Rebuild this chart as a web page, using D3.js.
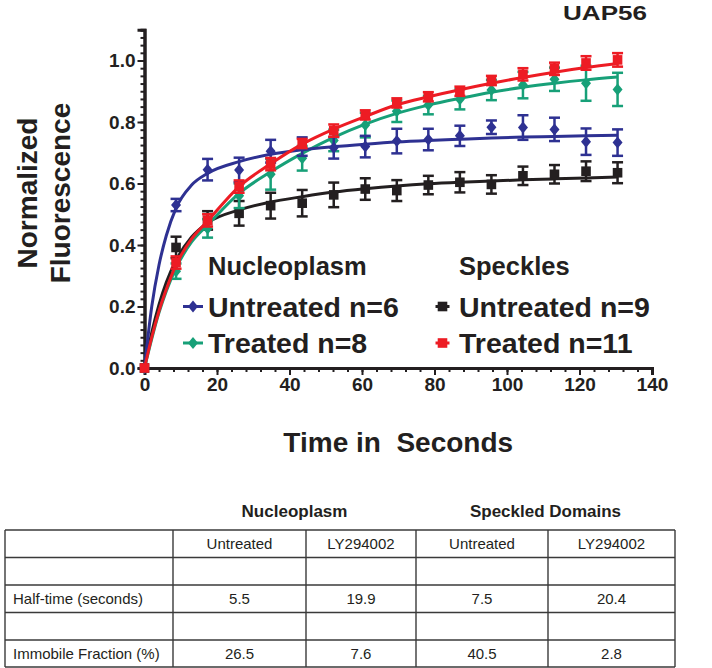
<!DOCTYPE html>
<html><head><meta charset="utf-8">
<script src="https://cdn.jsdelivr.net/npm/d3@7"></script>
<style>
body{margin:0;background:#fff}
svg{display:block;font-family:"Liberation Sans",Arial,Helvetica,sans-serif}
</style>
</head><body>
<svg id="c" width="712" height="668"></svg>
<script>
// ---------- data ----------
const times = [0, 8.7, 17.4, 26.1, 34.8, 43.5, 52.2, 60.9, 69.6, 78.3, 87, 95.7, 104.4, 113.1, 121.8, 130.5];

const nucUntreatedMean = [0, 0.53, 0.645, 0.644, 0.705, 0.72, 0.716, 0.72, 0.738, 0.743, 0.755, 0.783, 0.782, 0.776, 0.736, 0.733];
const nucUntreatedErr  = [0, 0.02, 0.035, 0.04, 0.037, 0.03, 0.035, 0.035, 0.04, 0.035, 0.033, 0.022, 0.04, 0.038, 0.043, 0.043];

const nucTreatedMean = [0, 0.315, 0.454, 0.56, 0.63, 0.682, 0.74, 0.79, 0.835, 0.855, 0.874, 0.904, 0.92, 0.939, 0.926, 0.906];
const nucTreatedErr  = [0, 0.025, 0.03, 0.04, 0.05, 0.04, 0.035, 0.04, 0.035, 0.03, 0.033, 0.033, 0.043, 0.038, 0.057, 0.054];

const spkUntreatedMean = [0, 0.392, 0.48, 0.503, 0.528, 0.536, 0.563, 0.582, 0.577, 0.595, 0.604, 0.597, 0.625, 0.63, 0.64, 0.635];
const spkUntreatedErr  = [0, 0.035, 0.03, 0.04, 0.042, 0.043, 0.04, 0.035, 0.034, 0.03, 0.033, 0.03, 0.03, 0.03, 0.032, 0.034];

const spkTreatedMean = [0, 0.343, 0.48, 0.59, 0.663, 0.73, 0.772, 0.823, 0.862, 0.882, 0.9, 0.935, 0.955, 0.973, 0.992, 1.002];
const spkTreatedErr  = [0, 0.02, 0.02, 0.02, 0.02, 0.015, 0.02, 0.015, 0.015, 0.015, 0.015, 0.015, 0.02, 0.02, 0.022, 0.022];

// fitted curves
const fitTimes = [0, 2, 4, 6, 8.7, 13, 17.4, 26.1, 34.8, 43.5, 52.2, 60.9, 69.6, 78.3, 87, 95.7, 104.4, 113.1, 121.8, 130.5];
const nucUntreatedFit = [0, 0.2, 0.335, 0.43, 0.52, 0.595, 0.633, 0.671, 0.695, 0.71, 0.72, 0.728, 0.735, 0.74, 0.744, 0.748, 0.751, 0.753, 0.755, 0.757];
const nucTreatedFit   = [0, 0.095, 0.18, 0.25, 0.325, 0.41, 0.465, 0.568, 0.638, 0.698, 0.75, 0.793, 0.828, 0.855, 0.877, 0.897, 0.913, 0.926, 0.937, 0.946];
const spkUntreatedFit = [0, 0.115, 0.206, 0.278, 0.35, 0.426, 0.472, 0.514, 0.54, 0.557, 0.572, 0.583, 0.592, 0.599, 0.604, 0.608, 0.612, 0.615, 0.618, 0.621];
const spkTreatedFit   = [0, 0.1, 0.185, 0.255, 0.335, 0.42, 0.478, 0.59, 0.664, 0.728, 0.777, 0.818, 0.856, 0.882, 0.905, 0.926, 0.945, 0.962, 0.977, 0.99];

const xTicks = [0, 20, 40, 60, 80, 100, 120, 140];
const yTicks = [0, 0.2, 0.4, 0.6, 0.8, 1.0];

const title = "UAP56";
const xLabel = "Time in  Seconds";
const yLabelLines = ["Normalized", "Fluorescence"];
const legendGroups = ["Nucleoplasm", "Speckles"];
const legendLabels = ["Untreated n=6", "Treated n=8", "Untreated n=9", "Treated n=11"];

const tableGroups = ["Nucleoplasm", "Speckled Domains"];
const tableHeader = ["", "Untreated", "LY294002", "Untreated", "LY294002"];
const tableRows = [
  ["", "", "", "", ""],
  ["Half-time (seconds)", "5.5", "19.9", "7.5", "20.4"],
  ["", "", "", "", ""],
  ["Immobile Fraction (%)", "26.5", "7.6", "40.5", "2.8"]
];

// ---------- drawing ----------
const BLUE = "#2e3192", GREEN = "#17a078", RED = "#ed1c24", BLACK = "#231f20";
const svg = d3.select("#c");

const x = d3.scaleLinear().domain([0, 140]).range([144.5, 652]);
const y = d3.scaleLinear().domain([0, 1.1]).range([368, 29.75]);

// axes
const yMinor = d3.axisLeft(y).tickValues(d3.range(0, 1.1001, 0.025)).tickSize(4).tickFormat("");
const yMajor = d3.axisLeft(y).tickValues(yTicks).tickSize(7).tickPadding(2).tickFormat(d3.format(".1f"));
const xMinor = d3.axisBottom(x).tickValues(d3.range(0, 140.01, 4)).tickSize(4).tickFormat("");
const xMajor = d3.axisBottom(x).tickValues(xTicks).tickSize(7).tickPadding(3).tickFormat(d3.format("d"));

function styleAxis(g){
  g.select(".domain").attr("stroke", BLACK).attr("stroke-width", 3);
  g.selectAll(".tick line").attr("stroke", BLACK).attr("stroke-width", 2);
  g.selectAll(".tick text").attr("fill", BLACK).style("font-size", "19px").style("font-weight", "bold")
   .style("font-family", '"Liberation Sans",Arial,sans-serif');
}
svg.append("g").attr("transform", `translate(${x(0)},0)`).call(yMinor).call(styleAxis);
svg.append("g").attr("transform", `translate(${x(0)},0)`).call(yMajor).call(styleAxis);
svg.append("g").attr("transform", `translate(0,${y(0)})`).call(xMinor).call(styleAxis);
svg.append("g").attr("transform", `translate(0,${y(0)})`).call(xMajor).call(styleAxis);

// series
const series = [
  {mean: spkUntreatedMean, err: spkUntreatedErr, fit: spkUntreatedFit, color: BLACK, shape: "square"},
  {mean: nucTreatedMean, err: nucTreatedErr, fit: nucTreatedFit, color: GREEN, shape: "diamond"},
  {mean: nucUntreatedMean, err: nucUntreatedErr, fit: nucUntreatedFit, color: BLUE, shape: "diamond"},
  {mean: spkTreatedMean, err: spkTreatedErr, fit: spkTreatedFit, color: RED, shape: "square"}
];

const line = d3.line().x(d => x(d[0])).y(d => y(d[1])).curve(d3.curveMonotoneX);

function marker(g, shape, color){
  if (shape === "square") {
    g.append("rect").attr("x", -4.8).attr("y", -4.8).attr("width", 9.6).attr("height", 9.6).attr("fill", color);
  } else {
    g.append("path").attr("d", "M0,-6 L5,0 L0,6 L-5,0 Z").attr("fill", color);
  }
}

series.forEach(s => {
  const g = svg.append("g");
  // error bars
  times.forEach((t, i) => {
    if (s.err[i] <= 0) return;
    const cx = x(t), y1 = y(s.mean[i] + s.err[i]), y2 = y(s.mean[i] - s.err[i]);
    g.append("line").attr("x1", cx).attr("x2", cx).attr("y1", y1).attr("y2", y2).attr("stroke", s.color).attr("stroke-width", 2.5);
    g.append("line").attr("x1", cx - 5.5).attr("x2", cx + 5.5).attr("y1", y1).attr("y2", y1).attr("stroke", s.color).attr("stroke-width", 2.5);
    g.append("line").attr("x1", cx - 5.5).attr("x2", cx + 5.5).attr("y1", y2).attr("y2", y2).attr("stroke", s.color).attr("stroke-width", 2.5);
  });
  // fit curve
  g.append("path").datum(fitTimes.map((t, i) => [t, s.fit[i]]))
    .attr("d", line).attr("fill", "none").attr("stroke", s.color).attr("stroke-width", 3);
  // markers
  times.forEach((t, i) => {
    const m = g.append("g").attr("transform", `translate(${x(t)},${y(s.mean[i])})`);
    marker(m, s.shape, s.color);
  });
});

// title
svg.append("text").attr("x", 647).attr("y", 20).attr("text-anchor", "end")
  .style("font-size", "21px").style("font-weight", "bold").attr("fill", BLACK)
  .attr("textLength", 84).attr("lengthAdjust", "spacingAndGlyphs").text(title);

// axis labels
svg.append("text").attr("x", (x(0) + x(140)) / 2).attr("y", 452).attr("text-anchor", "middle")
  .style("font-size", "28px").style("font-weight", "bold").style("white-space", "pre").attr("fill", BLACK).text(xLabel);
yLabelLines.forEach((t, i) => {
  svg.append("text").attr("transform", `translate(${36.5 + i * 33.5},193) rotate(-90)`).attr("text-anchor", "middle")
    .style("font-size", "28px").style("font-weight", "bold").attr("fill", BLACK).text(t);
});

// legend
const legX = [208, 459];
legendGroups.forEach((t, i) => {
  svg.append("text").attr("x", legX[i]).attr("y", 275).style("font-size", "25.5px").style("font-weight", "bold").attr("fill", BLACK).text(t);
});
const legItems = [
  {col: 0, row: 0, color: BLUE, shape: "diamond"},
  {col: 0, row: 1, color: GREEN, shape: "diamond"},
  {col: 1, row: 0, color: BLACK, shape: "square"},
  {col: 1, row: 1, color: RED, shape: "square"}
];
const legMarkX = [193, 442.5], legLineHalf = [10, 7];
legItems.forEach((it, i) => {
  const cy = 306.5 + it.row * 36.5;
  const cx = legMarkX[it.col];
  svg.append("line").attr("x1", cx - legLineHalf[it.col]).attr("x2", cx + legLineHalf[it.col]).attr("y1", cy).attr("y2", cy)
    .attr("stroke", it.color).attr("stroke-width", 3);
  marker(svg.append("g").attr("transform", `translate(${cx},${cy})`), it.shape, it.color);
  svg.append("text").attr("x", legX[it.col]).attr("y", 316.7 + it.row * 36.5)
    .style("font-size", "28.5px").style("font-weight", "bold").attr("fill", BLACK).text(legendLabels[i]);
});

// table
const colX = [5, 173, 306, 416, 548, 675];
const rowY = [530, 557.5, 585, 612.5, 640, 667];
const tg = svg.append("g");
tableGroups.forEach((t, i) => {
  const cx = (colX[1 + i * 2] + colX[3 + i * 2]) / 2;
  tg.append("text").attr("x", cx).attr("y", 517).attr("text-anchor", "middle")
    .style("font-size", "17px").style("font-weight", "bold").attr("fill", BLACK).text(t);
});
rowY.forEach(yy => tg.append("line").attr("x1", colX[0]).attr("x2", colX[5]).attr("y1", yy).attr("y2", yy).attr("stroke", "#3a3a3a").attr("stroke-width", 1.4));
colX.forEach(xx => tg.append("line").attr("x1", xx).attr("x2", xx).attr("y1", rowY[0]).attr("y2", rowY[5]).attr("stroke", "#3a3a3a").attr("stroke-width", 1.4));
[tableHeader].concat(tableRows).forEach((row, r) => {
  const by = (rowY[r] + rowY[r + 1]) / 2 + 5.5;
  row.forEach((cell, c) => {
    if (!cell) return;
    const tx = c === 0 ? colX[0] + 8 : (colX[c] + colX[c + 1]) / 2;
    tg.append("text").attr("x", tx).attr("y", by).attr("text-anchor", c === 0 ? "start" : "middle")
      .style("font-size", "15px").attr("fill", "#231f20").text(cell);
  });
});
</script>
</body></html>
